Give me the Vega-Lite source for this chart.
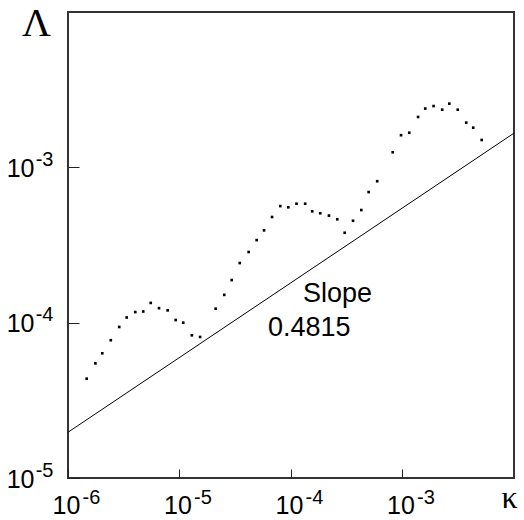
{
  "$schema": "https://vega.github.io/schema/vega-lite/v6.json",
  "width": 446,
  "height": 466,
  "autosize": "none",
  "padding": {"left": 68, "top": 12, "right": 10, "bottom": 42},
  "background": "white",
  "config": {
    "view": {"stroke": "#333333", "strokeWidth": 2},
    "font": "Liberation Sans",
    "axis": {"grid": false, "domain": false, "labelColor": "black", "labelFlush": false, "labelOverlap": false, "tickColor": "#222222", "tickWidth": 1}
  },
  "datasets": {
    "dots": [
      {"k": 1.47e-6, "L": 4.36e-5}, {"k": 1.76e-6, "L": 5.47e-5}, {"k": 2.03e-6, "L": 6.35e-5},
      {"k": 2.42e-6, "L": 7.71e-5}, {"k": 2.88e-6, "L": 9.38e-5}, {"k": 3.36e-6, "L": 1.08e-4},
      {"k": 4.01e-6, "L": 1.17e-4}, {"k": 4.73e-6, "L": 1.18e-4}, {"k": 5.52e-6, "L": 1.34e-4},
      {"k": 6.55e-6, "L": 1.24e-4}, {"k": 7.83e-6, "L": 1.20e-4}, {"k": 9.24e-6, "L": 1.04e-4},
      {"k": 1.08e-5, "L": 1.00e-4}, {"k": 1.29e-5, "L": 8.29e-5}, {"k": 1.53e-5, "L": 8.09e-5},
      {"k": 2.11e-5, "L": 1.23e-4}, {"k": 2.52e-5, "L": 1.51e-4}, {"k": 2.94e-5, "L": 1.88e-4},
      {"k": 3.47e-5, "L": 2.42e-4}, {"k": 4.17e-5, "L": 2.85e-4}, {"k": 4.92e-5, "L": 3.40e-4},
      {"k": 5.73e-5, "L": 3.93e-4}, {"k": 6.76e-5, "L": 4.79e-4}, {"k": 8.02e-5, "L": 5.63e-4},
      {"k": 9.46e-5, "L": 5.53e-4}, {"k": 1.12e-4, "L": 5.83e-4}, {"k": 1.34e-4, "L": 5.83e-4},
      {"k": 1.55e-4, "L": 5.21e-4}, {"k": 1.83e-4, "L": 5.06e-4}, {"k": 2.19e-4, "L": 4.89e-4},
      {"k": 2.60e-4, "L": 4.63e-4}, {"k": 3.03e-4, "L": 3.79e-4}, {"k": 3.60e-4, "L": 4.53e-4},
      {"k": 4.27e-4, "L": 5.31e-4}, {"k": 4.97e-4, "L": 6.93e-4}, {"k": 5.93e-4, "L": 8.14e-4},
      {"k": 8.17e-4, "L": 1.25e-3}, {"k": 9.70e-4, "L": 1.61e-3}, {"k": 1.15e-3, "L": 1.67e-3},
      {"k": 1.38e-3, "L": 2.11e-3}, {"k": 1.60e-3, "L": 2.39e-3}, {"k": 1.90e-3, "L": 2.48e-3},
      {"k": 2.27e-3, "L": 2.35e-3}, {"k": 2.63e-3, "L": 2.57e-3}, {"k": 3.13e-3, "L": 2.35e-3},
      {"k": 3.73e-3, "L": 1.94e-3}, {"k": 4.31e-3, "L": 1.80e-3}, {"k": 5.13e-3, "L": 1.50e-3}
    ],
    "fit": [
      {"k": 1e-6, "L": 1.97e-5},
      {"k": 1e-2, "L": 1.66e-3}
    ],
    "notes": [
      {"k": 1.28e-4, "L": 1.36e-4, "t": "Slope"},
      {"k": 6.22e-5, "L": 8.2e-5, "t": "0.4815"}
    ]
  },
  "resolve": {"axis": {"x": "independent", "y": "independent"}},
  "layer": [
    {
      "data": {"name": "fit"},
      "mark": {"type": "line", "color": "black", "strokeWidth": 1, "clip": true},
      "encoding": {
        "x": {
          "field": "k", "type": "quantitative",
          "scale": {"type": "log", "domain": [1e-6, 1e-2], "nice": false},
          "axis": {
            "orient": "bottom",
            "values": [1e-6, 1e-5, 1e-4, 1e-3],
            "labelExpr": "'10'",
            "tickSize": -9,
            "labelFontSize": 25,
            "labelPadding": 36,
            "labelBaseline": "middle",
            "labelAlign": "center",
            "labelOffset": -2,
            "title": "κ",
            "titleFont": "Liberation Serif",
            "titleFontSize": 32,
            "titleFontWeight": "normal",
            "titleColor": "black",
            "titleAngle": 0,
            "titleAlign": "center",
            "titleBaseline": "alphabetic",
            "titleAnchor": null,
            "titleX": 441,
            "titleY": 29
          }
        },
        "y": {
          "field": "L", "type": "quantitative",
          "scale": {"type": "log", "domain": [1e-5, 1e-2], "nice": false},
          "axis": {
            "orient": "left",
            "values": [1e-5, 1e-4, 1e-3],
            "labelExpr": "'10'",
            "tickSize": -11,
            "labelFontSize": 25,
            "labelPadding": 45,
            "labelAlign": "right",
            "labelBaseline": "middle",
            "labelOffset": 1,
            "title": "Λ",
            "titleFont": "Liberation Serif",
            "titleFontSize": 40,
            "titleFontWeight": "normal",
            "titleColor": "black",
            "titleAngle": 0,
            "titleAlign": "center",
            "titleBaseline": "alphabetic",
            "titleAnchor": null,
            "titleX": -32,
            "titleY": 23
          }
        }
      }
    },
    {
      "data": {"name": "dots"},
      "mark": {"type": "point", "shape": "square", "filled": true, "color": "black", "size": 7, "opacity": 1},
      "encoding": {
        "x": {
          "field": "k", "type": "quantitative",
          "scale": {"type": "log", "domain": [1e-6, 1e-2], "nice": false},
          "axis": {
            "orient": "bottom",
            "values": [1e-6, 1e-5, 1e-4, 1e-3],
            "labelExpr": "datum.value < 5e-6 ? '-6' : datum.value < 5e-5 ? '-5' : datum.value < 5e-4 ? '-4' : '-3'",
            "tickSize": -9,
            "tickOpacity": 0,
            "labelFontSize": 20,
            "labelPadding": 28,
            "labelBaseline": "middle",
            "labelAlign": "center",
            "labelOffset": 23,
            "title": null
          }
        },
        "y": {
          "field": "L", "type": "quantitative",
          "scale": {"type": "log", "domain": [1e-5, 1e-2], "nice": false},
          "axis": {
            "orient": "left",
            "values": [1e-5, 1e-4, 1e-3],
            "labelExpr": "datum.value < 5e-5 ? '-5' : datum.value < 5e-4 ? '-4' : '-3'",
            "tickSize": -11,
            "tickOpacity": 0,
            "labelFontSize": 20,
            "labelPadding": 26,
            "labelAlign": "right",
            "labelBaseline": "middle",
            "labelOffset": -8,
            "title": null
          }
        }
      }
    },
    {
      "data": {"name": "notes"},
      "mark": {"type": "text", "align": "left", "baseline": "alphabetic", "fontSize": 27, "color": "black", "font": "Liberation Sans"},
      "encoding": {
        "x": {"field": "k", "type": "quantitative", "scale": {"type": "log", "domain": [1e-6, 1e-2], "nice": false}, "axis": null},
        "y": {"field": "L", "type": "quantitative", "scale": {"type": "log", "domain": [1e-5, 1e-2], "nice": false}, "axis": null},
        "text": {"field": "t"}
      }
    }
  ]
}
